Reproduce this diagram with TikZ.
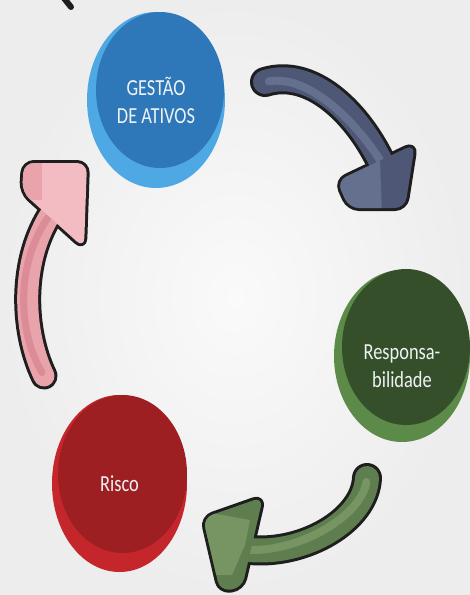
\documentclass[tikz,border=0pt]{standalone}
\usepackage{fontspec}
\newfontfamily\labelfont[FakeStretch=0.8]{Carlito}
\usetikzlibrary{shapes.geometric, calc}
\definecolor{cbg}{HTML}{EDEDED}
\definecolor{cbgin}{HTML}{FAFAFA}
\definecolor{cline}{HTML}{1E1E1E}
\definecolor{ctext}{HTML}{EEF2F4}
\definecolor{cblue}{HTML}{2E78BA}
\definecolor{cbluel}{HTML}{4DA8E3}
\definecolor{cgreen}{HTML}{344F2A}
\definecolor{cgreenl}{HTML}{5C8A48}
\definecolor{cred}{HTML}{9E1F22}
\definecolor{credl}{HTML}{C4262C}
\definecolor{cslate}{HTML}{4E5876}
\definecolor{cslatel}{HTML}{65708F}
\definecolor{cmoss}{HTML}{5F7E50}
\definecolor{cmossl}{HTML}{769563}
\definecolor{cpink}{HTML}{E9A3AB}
\definecolor{cpinkl}{HTML}{F3BCC2}
\definecolor{cpinkd}{HTML}{DB8C97}
\tikzset{
  every picture/.style={x=1pt, y=-1pt},
  disc/.style={ellipse, fill=#1, draw=none, inner sep=0pt},
  lbl/.style={font=\labelfont\fontsize{23}{28}\selectfont, text=ctext, align=center},
  rim/.style={draw=cline, line width=#1, line cap=round},
  rim/.default=30pt,
  shaft/.style={draw=#1, line width=24pt, line cap=round},
  gleam/.style={draw=#1, line width=8pt, line cap=round},
  headrim/.style={fill=cline, draw=cline, line width=6pt, line join=round, rounded corners=10pt},
  head/.style={fill=#1, rounded corners=10pt},
}

\begin{document}
\begin{tikzpicture}
  \useasboundingbox (0,0) rectangle (470,595);
  \shade[inner color=cbgin, outer color=cbg] (0,0) rectangle (470,595);
  \draw[cline, line width=6pt, line cap=round] (63,-3) -- (71,7);

  % circles: light base under a darker top
  \node[disc=cbluel, minimum width=138pt, minimum height=176pt] (gestaoBase) at (156,100) {};
  \node[disc=cblue, minimum width=128pt, minimum height=156pt] (gestao) at (160,90) {};
  \node[lbl] at (gestaoBase) {GESTÃO\\DE ATIVOS};

  \node[disc=cgreenl, minimum width=136pt, minimum height=172pt] (respBase) at (402,356) {};
  \node[disc=cgreen, minimum width=128pt, minimum height=156pt] (resp) at (406,347) {};
  \node[lbl] at (402,366) {Responsa-\\bilidade};

  \node[disc=credl, minimum width=135pt, minimum height=177pt] (riscoBase) at (119.5,483.5) {};
  \node[disc=cred, minimum width=129pt, minimum height=158pt] (risco) at (122.5,474) {};
  \node[lbl] at (riscoBase) {Risco};

  % arrow gestao -> resp
  \coordinate (a1s) at (265,82);
  \coordinate (a1e) at (380,160);
  \draw[rim] (a1s) .. controls (310,68) and (355,110) .. (a1e);
  \filldraw[headrim] (337,181) -- (415,144) -- (405,208) -- (349,208) -- cycle;
  \draw[shaft=cslate] (a1s) .. controls (310,68) and (355,110) .. (a1e);
  \draw[gleam=cslatel, shift={(-3,7)}, shorten <=4pt] (a1s) .. controls (310,68) and (355,110) .. (a1e);
  \fill[head=cslate] (337,181) -- (415,144) -- (405,208) -- (349,208) -- cycle;
  \begin{scope}
    \clip[rounded corners=10pt] (337,181) -- (415,144) -- (405,208) -- (349,208) -- cycle;
    \fill[cslatel] (330,176) -- (380,160) -- (382,215) -- (330,215) -- cycle;
  \end{scope}

  % arrow resp -> risco
  \coordinate (a2s) at (367,478);
  \coordinate (a2e) at (250,550);
  \draw[rim] (a2s) .. controls (365,520) and (305,555) .. (a2e);
  \filldraw[headrim] (263,497) -- (203,518) -- (220,591) -- (242,588) -- cycle;
  \draw[shaft=cmoss] (a2s) .. controls (365,520) and (305,555) .. (a2e);
  \draw[gleam=cmossl, shift={(-4,-4)}, shorten <=4pt] (a2s) .. controls (365,520) and (305,555) .. (a2e);
  \fill[head=cmoss] (263,497) -- (203,518) -- (220,591) -- (242,588) -- cycle;
  \begin{scope}
    \clip[rounded corners=10pt] (263,497) -- (203,518) -- (220,591) -- (242,588) -- cycle;
    \fill[cmossl] (195,510) -- (250,520) -- (245,545) -- (232,575) -- (195,575) -- cycle;
  \end{scope}

  % arrow risco -> gestao
  \coordinate (a3s) at (44,376);
  \coordinate (a3e) at (52,212);
  \draw[rim=27pt] (a3s) .. controls (22,330) and (20,260) .. (a3e);
  \filldraw[headrim] (22,192) -- (24,163) -- (87,163) -- (84,248) -- cycle;
  \draw[shaft=cpink, line width=21pt] (a3s) .. controls (22,330) and (20,260) .. (a3e);
  \draw[gleam=cpinkd, line width=7pt, shift={(-5,0)}, shorten <=4pt] (a3s) .. controls (22,330) and (20,260) .. (a3e);
  \fill[head=cpinkl] (22,192) -- (24,163) -- (87,163) -- (84,248) -- cycle;
  \begin{scope}
    \clip[rounded corners=10pt] (22,192) -- (24,163) -- (87,163) -- (84,248) -- cycle;
    \fill[cpink] (15,160) rectangle (42,200);
  \end{scope}
\end{tikzpicture}
\end{document}
